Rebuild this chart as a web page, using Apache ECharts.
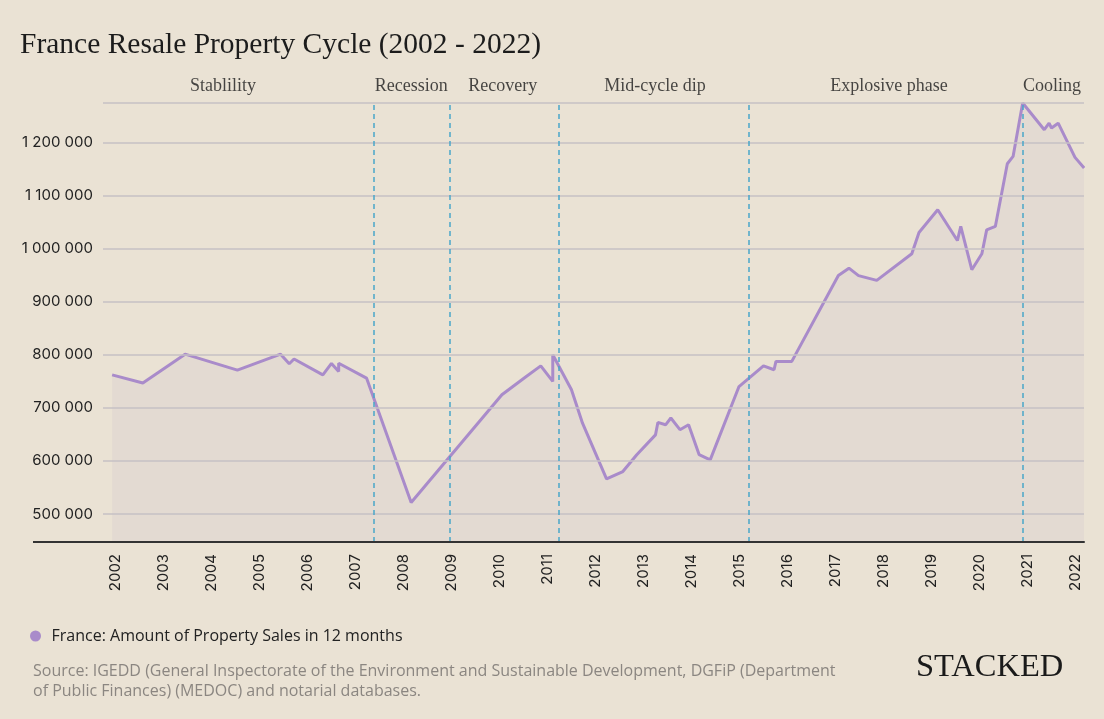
<!DOCTYPE html>
<html>
<head>
<meta charset="utf-8">
<script src="https://cdn.jsdelivr.net/npm/echarts@6/dist/echarts.min.js"></script>
<style>
html,body{margin:0;padding:0;background:#eae2d4;}
#chart{width:1104px;height:719px;}
</style>
</head>
<body>
<div id="chart"></div>
<script>
// ---- data ----
var years = [2001.94, 2002.58, 2003.46, 2004.55, 2005.45, 2005.63, 2005.73, 2006.33, 2006.51, 2006.66, 2006.66, 2007.24,
  2008.17, 2010.06, 2010.54, 2010.87, 2011.12, 2011.12, 2011.51, 2011.74, 2012.24, 2012.58, 2012.87, 2013.26,
  2013.31, 2013.47, 2013.58, 2013.77, 2013.95, 2014.17, 2014.40, 2015.00, 2015.51, 2015.73, 2015.77, 2016.10,
  2017.07, 2017.29, 2017.49, 2017.87, 2018.60, 2018.75, 2019.14, 2019.55, 2019.62, 2019.85, 2020.06, 2020.16,
  2020.34, 2020.59, 2020.71, 2020.91, 2021.36, 2021.46, 2021.51, 2021.65, 2022.00, 2022.19];
var sales = [762000, 746700, 801000, 771000, 801000, 783000, 792000, 762000, 783600, 768600, 784000, 756000,
  521800, 724700, 757000, 779000, 749700, 800000, 734000, 671000, 566000, 580000, 611700, 649000,
  672500, 668000, 680800, 658800, 668000, 611700, 602000, 740000, 779000, 771700, 787400, 787400,
  949000, 963000, 949000, 940000, 990000, 1030000, 1073000, 1015000, 1041600, 960000, 990000, 1035000,
  1041600, 1159700, 1173400, 1274000, 1223700, 1236000, 1227000, 1236000, 1171600, 1151600];
var yearTicks = [2002,2003,2004,2005,2006,2007,2008,2009,2010,2011,2012,2013,2014,2015,2016,2017,2018,2019,2020,2021,2022];
var valueTicks = [500000, 600000, 700000, 800000, 900000, 1000000, 1100000, 1200000];
var phaseNames = ['Stablility', 'Recession', 'Recovery', 'Mid-cycle dip', 'Explosive phase', 'Cooling'];
var phaseCenters = [2004.25, 2008.17, 2010.08, 2013.25, 2018.125, 2021.52];
var phaseBounds = [2007.40, 2008.98, 2011.25, 2015.21, 2020.91];
var seriesName = 'France: Amount of Property Sales in 12 months';

var X_MIN = 2001.75, X_MAX = 2022.1875, Y_MIN = 447300, Y_MAX = 1274000;

var pts = years.map(function (y, i) { return [y, sales[i]]; });
var gridVals = valueTicks.concat([Y_MAX]);

function fmt(v) { return String(v).replace(/\B(?=(\d{3})+(?!\d))/g, ' '); }

var chart = echarts.init(document.getElementById('chart'), null, {renderer: 'canvas'});
chart.setOption({
  backgroundColor: '#eae2d4',
  animation: false,
  title: {
    text: 'France Resale Property Cycle (2002 - 2022)',
    left: 20, top: 30, padding: 0,
    textStyle: {fontFamily: 'Liberation Serif', fontSize: 29.5, fontWeight: 'normal', color: '#1c1c1c'}
  },
  legend: {
    data: [{name: seriesName, icon: 'circle'}],
    left: 25, top: 623, itemWidth: 22, itemHeight: 11,
    textStyle: {fontFamily: 'Open Sans', fontSize: 16, color: '#222'}
  },
  grid: {left: 103, right: 20, top: 103, bottom: 177},
  xAxis: {
    type: 'value', min: X_MIN, max: X_MAX, z: 10,
    axisLine: {show: true, lineStyle: {color: '#333', width: 2}},
    axisTick: {show: false},
    splitLine: {show: false},
    axisLabel: {
      customValues: yearTicks, rotate: 90, margin: 12,
      fontFamily: 'Inter', fontSize: 15, color: '#222',
      formatter: function (v) { return String(Math.round(v)); }
    }
  },
  yAxis: {
    type: 'value', min: Y_MIN, max: Y_MAX,
    axisLine: {show: false}, axisTick: {show: false}, splitLine: {show: false},
    axisLabel: {
      customValues: valueTicks, margin: 10,
      fontFamily: 'Inter', fontSize: 15, color: '#222',
      formatter: function (v) { return fmt(v); }
    }
  },
  graphic: [
    {type: 'line', z: 20, shape: {x1: 33, y1: 542, x2: 104, y2: 542}, style: {stroke: '#333', lineWidth: 2}},
    {type: 'text', left: 33, top: 661, style: {
      text: 'Source: IGEDD (General Inspectorate of the Environment and Sustainable Development, DGFiP (Department\nof Public Finances) (MEDOC) and notarial databases.',
      font: '16px "Open Sans"', fill: '#8b8681', lineHeight: 20}},
    {type: 'text', left: 916, top: 651, style: {text: 'STACKED', font: '32.5px "Liberation Serif"', fill: '#1a1a1a'}}
  ],
  series: [
    {
      type: 'line', data: pts, symbol: 'none', z: 1, silent: true,
      lineStyle: {width: 0, opacity: 0},
      areaStyle: {color: '#e3dad2', opacity: 1, origin: 'start'}
    },
    {
      type: 'line', data: [pts[0]], symbol: 'none', z: 2, silent: true,
      lineStyle: {width: 0, opacity: 0},
      markLine: {
        silent: true, symbol: ['none', 'none'], label: {show: false},
        data: gridVals.map(function (v) {
          return [{coord: [X_MIN, v], lineStyle: {color: '#c6c1c4', width: 1.5, type: 'solid'}}, {coord: [X_MAX, v]}];
        }).concat(phaseBounds.map(function (b) {
          return {xAxis: b, lineStyle: {color: '#4aa6c9', width: 1.5, type: [5, 4]}};
        }))
      }
    },
    {
      type: 'scatter', data: phaseCenters.map(function (c) { return [c, Y_MAX]; }),
      symbolSize: 0, silent: true, clip: false, z: 3,
      label: {
        show: true, position: 'top', distance: 8,
        fontFamily: 'Liberation Serif', fontSize: 18, color: '#1c1c1c',
        formatter: function (p) { return phaseNames[p.dataIndex]; }
      }
    },
    {
      name: seriesName, type: 'line', data: pts, symbol: 'none', z: 4,
      itemStyle: {color: '#a98bca'},
      lineStyle: {color: '#a98bca', width: 3}
    }
  ]
});
</script>
</body>
</html>
